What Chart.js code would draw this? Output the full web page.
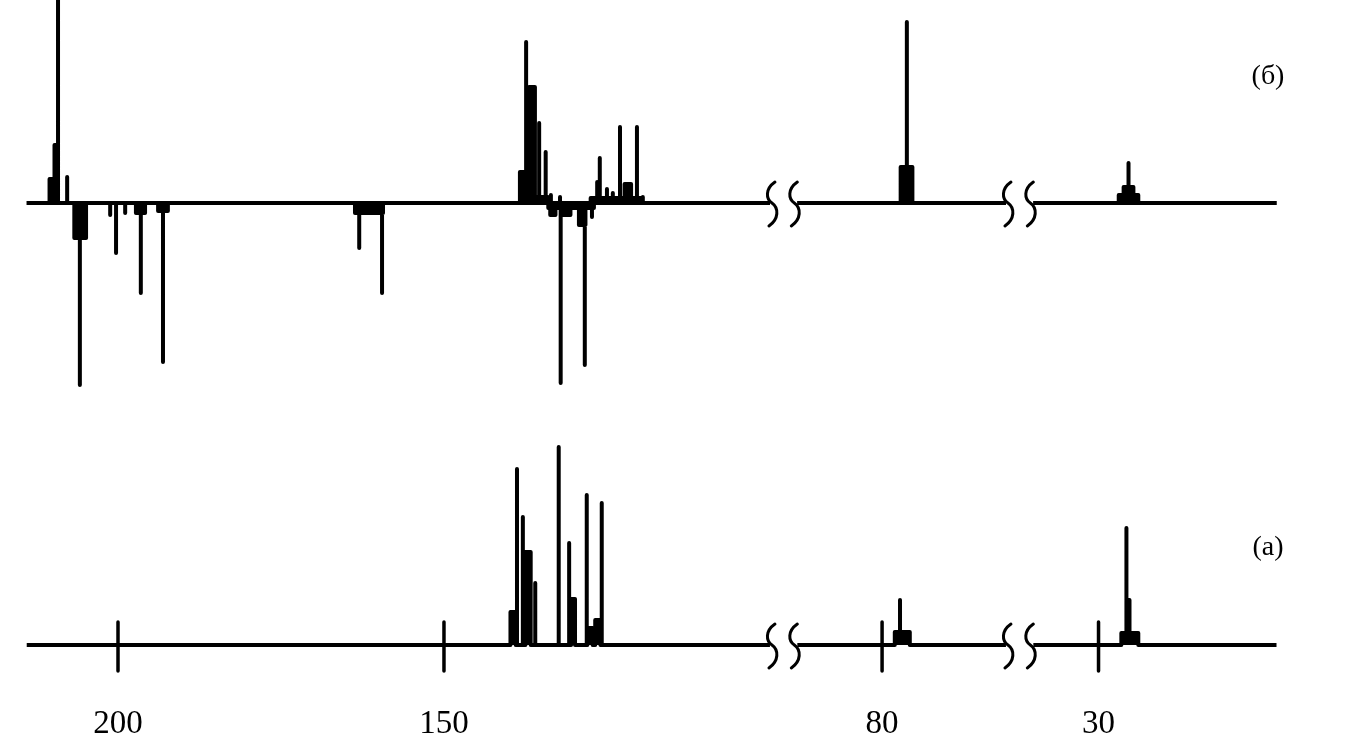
<!DOCTYPE html>
<html><head><meta charset="utf-8">
<script src="https://cdn.jsdelivr.net/npm/chart.js@4.4.1/dist/chart.umd.min.js"></script>
<style>html,body{margin:0;padding:0;background:#fff}#wrap{width:1358px;height:747px;position:relative}</style>
</head><body><div id="wrap"><canvas id="c"></canvas></div>
<script>
// ---- axis (chemical shift, ppm) ----
const tickShifts = [200, 150, 80, 30];
const tickLabels = ['200', '150', '80', '30'];
const axisSegments = [[214, 100], [93, 61], [40, 2.7]]; // broken axis pieces (ppm, from -> to)
const traceLabels = ['(б)', '(а)'];

// ---- spectrum (б): upper trace ----
const upperShift  = [210.1, 209.5, 209.2, 207.8, 205.8, 205.85, 201.2, 200.3, 198.9, 196.55, 196.5, 193.1, 193.1, 163.0, 161.5, 159.5,
                     137.9, 137.4, 136.5, 135.4, 134.4, 136.2, 133.6, 132.2, 126.5, 126.1, 125.0, 124.1, 123.0, 121.8, 120.4, 119.5, 123.5,
                     133.3, 132.1, 131.1, 130.5, 128.8, 128.4, 127.3,
                     76.2, 76.25, 25.4, 25.4, 25.4];
const upperHeight = [24, 58, 206, 26, -35, -182, -12, -50, -10, -10, -90, -8, -159, -45, -10, -90,
                     31, 161, 116, 80, 51, 6, 8, 6, 21, 45, 14, 10, 76, 19, 76, 6, 5,
                     -12, -180, -12, -5, -22, -162, -14,
                     181, 36, 40, 16, 8];
const upperWidth  = [0.8, 0.6, 0, 0, 1.8, 0, 0, 0, 0, 1.4, 0, 1.5, 0, 0, 4.3, 0,
                     0.9, 0, 0.9, 0, 0, 4.3, 0, 0, 0, 0, 0, 0, 0, 1.0, 0, 0, 8,
                     0.8, 0, 1.0, 7, 1.0, 0, 0,
                     0, 1.8, 0, 1.5, 3.0];

// ---- spectrum (а): lower trace ----
const lowerShift  = [139.4, 138.8, 137.9, 137.1, 136.0, 132.4, 130.8, 130.2, 128.1, 127.6, 126.4, 125.8, 77.25, 76.9, 25.7, 25.5, 25.2];
const lowerHeight = [33, 176, 128, 93, 62, 198, 102, 46, 150, 17, 25, 142, 45, 13, 117, 45, 12];
const lowerWidth  = [0.8, 0, 0, 0.8, 0, 0, 0, 0.6, 0, 0.8, 0.8, 0, 0, 2.3, 0, 0.5, 2.6];

const GAP = 4.2;
const offsets = [];
axisSegments.reduce((acc, s, i) => { offsets[i] = acc; return acc + (s[0] - s[1]) + GAP; }, 0);

function segIndex(p) {
  for (let i = 0; i < axisSegments.length; i++) {
    const [a, b] = axisSegments[i];
    if (p <= a + 1e-9 && p >= b - 1e-9) return i;
  }
  return -1;
}
function toAxis(p) {
  const i = segIndex(p);
  return offsets[i] + (axisSegments[i][0] - p);
}

function buildTrace(shift, height, width, sign) {
  const items = [];
  shift.forEach((p, k) => {
    if (Math.sign(height[k]) !== sign) return;
    const c = toAxis(p), w = width[k] / 2;
    items.push({ seg: segIndex(p), l: c - w, r: c + w, h: Math.abs(height[k]) });
  });
  const pts = [];
  axisSegments.forEach((s, si) => {
    const d0 = toAxis(s[0]), d1 = toAxis(s[1]);
    const its = items.filter(it => it.seg === si);
    const bps = [...new Set([d0, d1, ...its.flatMap(it => [it.l, it.r])])].sort((a, b) => a - b);
    const mx = arr => arr.reduce((m, v) => Math.max(m, v), 0);
    bps.forEach(b => {
      const L = mx(its.filter(it => it.l < b && it.r >= b).map(it => it.h));
      const V = mx(its.filter(it => it.l <= b && it.r >= b).map(it => it.h));
      const R = mx(its.filter(it => it.l <= b && it.r > b).map(it => it.h));
      pts.push({ x: b, y: sign * L }, { x: b, y: sign * V }, { x: b, y: sign * R });
    });
    if (si < axisSegments.length - 1) pts.push({ x: d1 + GAP / 2, y: null });
  });
  return pts;
}

function ds(data, axis) {
  return {
    data, yAxisID: axis, borderColor: '#000', backgroundColor: '#000', borderWidth: 4,
    fill: 'origin', pointRadius: 0, tension: 0, spanGaps: false,
    borderJoinStyle: 'round', borderCapStyle: 'butt'
  };
}

function squiggle(ctx, cx, y0) {
  ctx.beginPath();
  ctx.moveTo(cx + 3, y0 - 21);
  ctx.bezierCurveTo(cx - 7, y0 - 14, cx - 6, y0 - 4, cx, y0);
  ctx.bezierCurveTo(cx + 7, y0 + 5, cx + 7, y0 + 16, cx - 3, y0 + 23);
  ctx.stroke();
}

const decor = {
  id: 'decor',
  afterDatasetsDraw(chart) {
    const { ctx, chartArea, scales } = chart;
    const x = scales.x, yU = scales.yU, yL = scales.yL;
    const y0U = yU.getPixelForValue(0), y0L = yL.getPixelForValue(0);
    ctx.save();
    ctx.strokeStyle = '#000';
    ctx.lineCap = 'round';
    ctx.lineWidth = 3.5;
    tickShifts.forEach(p => {
      const px = x.getPixelForValue(toAxis(p));
      ctx.beginPath(); ctx.moveTo(px, y0L - 23); ctx.lineTo(px, y0L + 26); ctx.stroke();
    });
    ctx.lineWidth = 3;
    for (let i = 0; i < axisSegments.length - 1; i++) {
      const a = x.getPixelForValue(toAxis(axisSegments[i][1])) + 2;
      const b = x.getPixelForValue(toAxis(axisSegments[i + 1][0])) - 3;
      [y0U, y0L].forEach(y0 => { squiggle(ctx, a, y0); squiggle(ctx, b, y0); });
    }
    ctx.fillStyle = '#000';
    ctx.font = '28px "Liberation Serif", "Times New Roman", serif';
    ctx.textAlign = 'center';
    ctx.textBaseline = 'middle';
    ctx.fillText(traceLabels[0], chartArea.right - 90, y0U - 126);
    ctx.fillText(traceLabels[1], chartArea.right - 90, y0L - 97);
    ctx.restore();
  }
};

new Chart(document.getElementById('c'), {
  type: 'line',
  data: {
    datasets: [
      ds(buildTrace(upperShift, upperHeight, upperWidth, 1), 'yU'),
      ds(buildTrace(upperShift, upperHeight, upperWidth, -1), 'yU'),
      ds(buildTrace(lowerShift, lowerHeight, lowerWidth, 1), 'yL')
    ]
  },
  options: {
    responsive: true, maintainAspectRatio: false, animation: false, events: [],
    layout: { padding: 0 },
    plugins: { legend: { display: false }, tooltip: { enabled: false } },
    scales: {
      x: {
        type: 'linear', min: -4.1, max: 204.2,
        grid: { display: false }, border: { display: false },
        afterBuildTicks: s => { s.ticks = tickShifts.map(p => ({ value: toAxis(p) })); },
        afterFit: s => { s.height = 52; },
        ticks: {
          autoSkip: false, maxRotation: 0, padding: 2, color: '#000',
          font: { family: '"Liberation Serif", "Times New Roman", serif', size: 33 },
          callback: (v, i) => tickLabels[i]
        }
      },
      yU: { display: false, min: -492, max: 203 },
      yL: { display: false, min: -50, max: 645 }
    }
  },
  plugins: [decor]
});
</script>
</body></html>
